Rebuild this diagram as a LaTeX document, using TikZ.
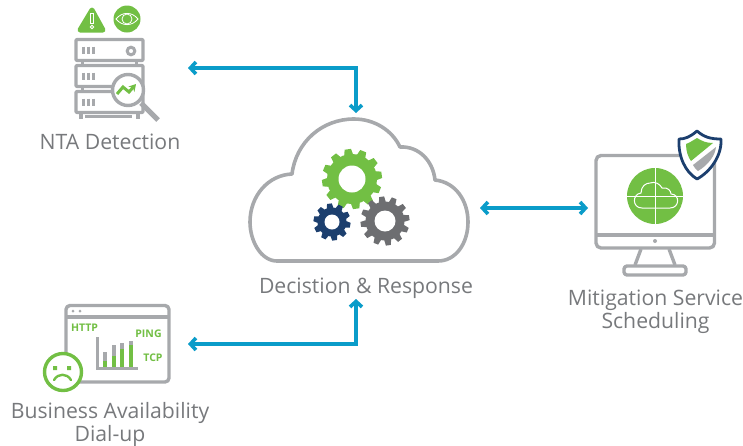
\documentclass[tikz,border=0pt]{standalone}
\usepackage{fontspec}
\setmainfont{Open Sans}
\usetikzlibrary{arrows.meta,calc}
\definecolor{iconGrey}{HTML}{A7A9AC}
\definecolor{labelGrey}{HTML}{77797C}
\definecolor{gearGrey}{HTML}{6D6E71}
\definecolor{brandGreen}{HTML}{72BF44}
\definecolor{brandNavy}{HTML}{1C3F6E}
\definecolor{linkBlue}{HTML}{0A9CC9}
\tikzset{
  lbl/.style={text=labelGrey,font=\fontsize{21.2}{23}\selectfont,inner sep=0pt,align=center},
  tag/.style={text=brandGreen,font=\fontsize{10.5}{11}\selectfont\bfseries,inner sep=0pt},
  ico/.style={draw=iconGrey,line width=3.4pt,fill=white,line join=round},
  icoln/.style={draw=iconGrey,line width=3.4pt},
  link/.style={draw=linkBlue,line width=3.6pt,line join=miter,{Straight Barb[length=5.5pt,width=12pt]}-{Straight Barb[length=5.5pt,width=12pt]}},
}
% gear: x, y, tip radius, body radius, hole radius, teeth, colour, tooth half width at tip
\newcommand{\mygear}[8]{%
  \foreach \a in {1,...,#6}{%
    \fill[#7,rotate around={360/#6*\a+8:(#1,#2)}] ($(#1,#2)+(-#8*1.35,0)$) -- ($(#1,#2)+(-#8*1.35,-#4)$) -- ($(#1,#2)+(-#8,-#3)$) -- ($(#1,#2)+(#8,-#3)$) -- ($(#1,#2)+(#8*1.35,-#4)$) -- ($(#1,#2)+(#8*1.35,0)$) -- cycle;}
  \fill[#7] (#1,#2) circle[radius=#4];
  \fill[white] (#1,#2) circle[radius=#5];
}
\begin{document}
\begin{tikzpicture}[x=1pt,y=-1pt]
\useasboundingbox (0,0) rectangle (743,445);
% ---------- server
\foreach \yy in {39.5,65.5,91.5}{
  \draw[ico,rounded corners=1pt] (76,\yy) rectangle (143,\yy+21);
  \foreach \xx in {83.5,88.5,93.5}{\draw[iconGrey,line width=2.6pt] (\xx,\yy+7) -- (\xx,\yy+14);}
}
\draw[iconGrey,line width=3pt] (82,61)--(82,65) (136,61)--(136,65) (82,87)--(82,91) (136,87)--(136,91);
\draw[icoln] (81,112)--(81,119) (138,112)--(138,119);
\draw[iconGrey,line width=2.8pt] (85,116.5)--(132,116.5);
\draw[iconGrey,line width=3pt] (131,51) circle[radius=3.8];
\draw[iconGrey,line width=5pt] (141,103)--(158,120);
\draw[ico] (128,90) circle[radius=15.5];
\draw[brandGreen,line width=3pt,-{Stealth[length=7pt,width=8pt]}] (117,94)--(123,87)--(129,92)--(136,84);
% ---------- alert and eye
\fill[brandGreen,draw=brandGreen,line width=5pt,line join=round] (92,10)--(103,30)--(80,30)--cycle;
\draw[white,line width=.9pt] (90.5,13) rectangle (93.5,23.5);
\draw[white,line width=.9pt] (92,27) circle[radius=1.7];
\fill[brandGreen] (127,19) circle[radius=13.5];
\draw[white,line width=.8pt] (116,19) .. controls (122,11.5) and (132,11.5) .. (138,19) .. controls (132,26.5) and (122,26.5) .. (116,19) -- cycle;
\draw[white,line width=.8pt] (127,19) circle[radius=5];
% ---------- cloud
\draw[iconGrey,line width=3.6pt,line join=round] (277,261)
  .. controls (261,261) and (250,241) .. (250,222)
  .. controls (250,196) and (268,175) .. (292,174)
  .. controls (296,142) and (322,119) .. (354,119)
  .. controls (374,119) and (392,130) .. (400,147)
  .. controls (419,146) and (433,161) .. (435,180)
  .. controls (455,182) and (468,200) .. (468,222)
  .. controls (468,243) and (456,261) .. (438,261) -- cycle;
\mygear{352}{179}{30}{25}{13.5}{12}{brandGreen}{3.2}
\mygear{332}{222}{18.5}{14.5}{7.5}{10}{brandNavy}{2.4}
\mygear{385}{221}{24.5}{19.5}{10.5}{12}{gearGrey}{2.5}
% ---------- monitor
\draw[ico,rounded corners=5pt] (596,155.5) rectangle (714.5,248);
\draw[icoln] (596,235)--(714.5,235);
\fill[iconGrey] (655,241) circle[radius=2];
\draw[icoln] (641,249)--(635,265) (669,249)--(675,265);
\draw[ico,rounded corners=3pt] (624,266) rectangle (686,275);
\fill[brandGreen] (655,196) circle[radius=28];
\draw[white,line width=.8pt] (655,168)--(655,224) (627,196)--(683,196);
\draw[white,line width=1pt,fill=brandGreen] (642,208)
  .. controls (632,208) and (632,194) .. (641,193)
  .. controls (641,186) and (646,183) .. (650,183)
  .. controls (655,181) and (660,184) .. (662,188)
  .. controls (668,187) and (671,191) .. (671,194)
  .. controls (680,194) and (680,208) .. (670,208) -- cycle;
\draw[white,line width=.8pt] (655,183)--(655,224) (633,196)--(677,196);
% ---------- shield
\draw[brandNavy,fill=white,line width=2.8pt,line join=round] (697,131)
  .. controls (690,137) and (685,139) .. (679,139)
  .. controls (678,156) and (685,172) .. (697,179)
  .. controls (710,172) and (722,156) .. (721,139)
  .. controls (710,139) and (704,137) .. (697,131) -- cycle;
\fill[brandGreen] (697,138) .. controls (692,141) and (689,143) .. (686,144)
  .. controls (686,151) and (688,157) .. (691,161) -- (713,143)
  .. controls (706,143) and (702,141) .. (697,138) -- cycle;
\fill[iconGrey] (716,147) -- (693,165) .. controls (695,168) and (696,170) .. (698,171)
  .. controls (708,165) and (715,156) .. (716,147) -- cycle;
% ---------- browser
\draw[ico,rounded corners=4pt] (66,305.5) rectangle (169,382);
\draw[icoln] (66,317)--(169,317);
\fill[iconGrey] (73,311) circle[radius=1.5] (80,311) circle[radius=1.5];
\node[tag] (http) at (84.5,328) {HTTP};
\node[tag] (ping) at (148.5,334) {PING};
\node[tag] (tcp) at (153,358) {TCP};
\foreach \xx/\tp/\gr in {105/352/361,114/345/356,122/343/349,131/341/345}{
  \fill[iconGrey] (\xx-2,\tp) rectangle (\xx+2,\gr);
  \fill[brandGreen] (\xx-2,\gr) rectangle (\xx+2,367);
}
\draw[iconGrey,line width=3pt] (97,337)--(97,368)--(138,368);
\draw[brandGreen,fill=white,line width=3.4pt] (63,372) circle[radius=18.5];
\fill[brandGreen] (53,366) rectangle (57,370) (67,366) rectangle (71,370);
\draw[brandGreen,line width=2.4pt,line cap=round] (54,380) .. controls (58,373) and (67,373) .. (71,380);
% ---------- connectors
\coordinate (ntaEnd) at (188,68);
\coordinate (cloudTop) at (356,113);
\coordinate (cloudBottom) at (356,299);
\coordinate (cloudRight) at (480,208);
\coordinate (monitorLeft) at (588,208);
\coordinate (dialEnd) at (188,344);
\draw[link] (ntaEnd) -| (cloudTop);
\draw[link] (cloudRight) -- (monitorLeft);
\draw[link] (dialEnd) -| (cloudBottom);
% ---------- labels
\node[lbl] (nta) at (110,142) {NTA Detection};
\node[lbl] (dec) at (366,288.5) {Decistion \& Response};
\node[lbl] (mit) at (655.5,312) {Mitigation Service\\Scheduling};
\node[lbl] (biz) at (110,424) {Business Availability\\Dial-up};
\end{tikzpicture}
\end{document}
